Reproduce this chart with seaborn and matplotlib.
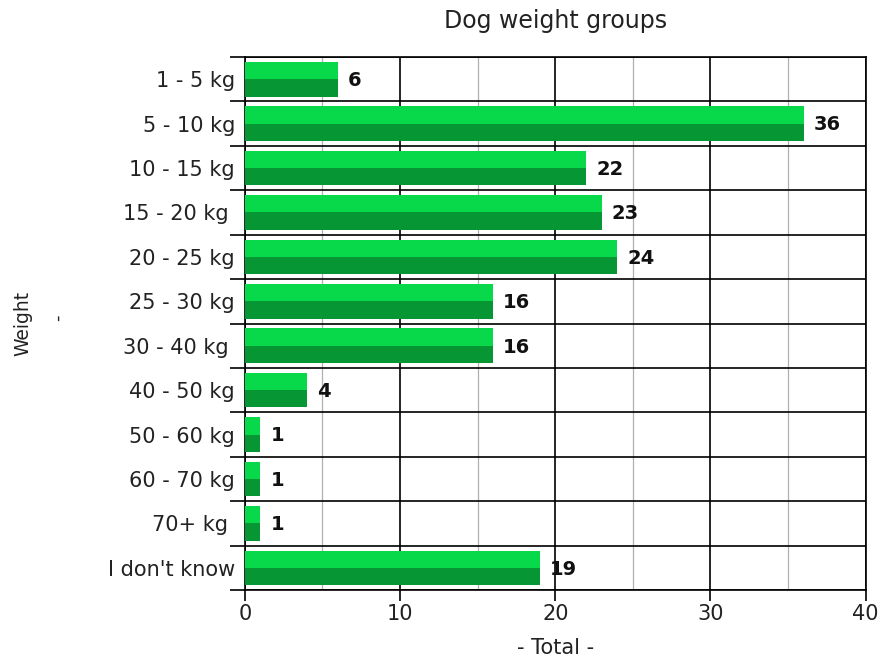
import matplotlib
matplotlib.use('Agg')
import matplotlib.pyplot as plt
from matplotlib.patches import Rectangle
from matplotlib.ticker import FixedLocator, MultipleLocator
import pandas as pd
import seaborn as sns

# data
categories = ['1 - 5 kg', '5 - 10 kg', '10 - 15 kg', '15 - 20 kg ', '20 - 25 kg',
              '25 - 30 kg', '30 - 40 kg ', '40 - 50 kg', '50 - 60 kg', '60 - 70 kg',
              '70+ kg ', "I don't know"]
totals = [6, 36, 22, 23, 24, 16, 16, 4, 1, 1, 1, 19]

sns.set_theme(style="white")
plt.rcParams['font.family'] = ['DejaVu Sans']

LIGHT = '#08d94a'
DARK = '#079634'
TXT = '#222222'

df = pd.DataFrame({'weight': categories, 'total': totals})

fig = plt.figure(figsize=(8.87, 6.6), dpi=100)
ax = fig.add_axes([0.276, 0.106, 0.7, 0.8076])

sns.barplot(data=df, x='total', y='weight', orient='h', color=DARK,
            saturation=1, width=0.78, edgecolor='none', ax=ax, zorder=3)

# lighter top half of every bar
for p in list(ax.patches):
    x0, y0 = p.get_x(), p.get_y()
    w, h = p.get_width(), p.get_height()
    ax.add_patch(Rectangle((x0, y0), w, h / 2, facecolor=LIGHT,
                           edgecolor='none', zorder=4))

# value labels
for i, v in enumerate(totals):
    ax.text(v + 0.65, i + 0.03, str(v), va='center', ha='left',
            fontsize=14, fontweight='bold', color='#111111', zorder=5)

ax.set_xlim(0, 40)
ax.set_ylim(len(categories) - 0.5, -0.5)

ax.xaxis.set_major_locator(MultipleLocator(10))
ax.xaxis.set_minor_locator(FixedLocator([5, 15, 25, 35]))
ax.yaxis.set_minor_locator(FixedLocator([i - 0.5 for i in range(len(categories) + 1)]))

ax.grid(which='major', axis='x', color='black', linewidth=1.2, zorder=1)
ax.grid(which='minor', axis='x', color='#b0b0b0', linewidth=0.9, zorder=1)
ax.grid(which='minor', axis='y', color='black', linewidth=1.2, zorder=1)
ax.grid(which='major', axis='y', visible=False)
ax.set_axisbelow(True)

ax.tick_params(axis='y', which='major', length=0, labelsize=15, pad=7, colors=TXT)
ax.tick_params(axis='y', which='minor', length=11, width=1.2, color='black', left=True)
ax.tick_params(axis='x', which='major', length=8, width=1.2, color='black',
               bottom=True, labelsize=15, pad=2, colors=TXT)
ax.tick_params(axis='x', which='minor', length=0)
ax.tick_params(axis='x', which='major', color='black')

for s in ax.spines.values():
    s.set_color('black')
    s.set_linewidth(1.2)
    s.set_visible(True)

ax.set_xlabel('- Total -', fontsize=15, color=TXT, labelpad=10)
ax.set_ylabel('Weight', fontsize=13.5, color=TXT)
ax.yaxis.set_label_coords(-212 / 621, 0.5)
fig.text(58 / 887, 1 - 318 / 660, '-', rotation=90, fontsize=13, color=TXT,
         ha='center', va='center')
ax.set_title('Dog weight groups', fontsize=17, color=TXT, pad=21)

fig.savefig('out.png', dpi=100)
plt.close(fig)
